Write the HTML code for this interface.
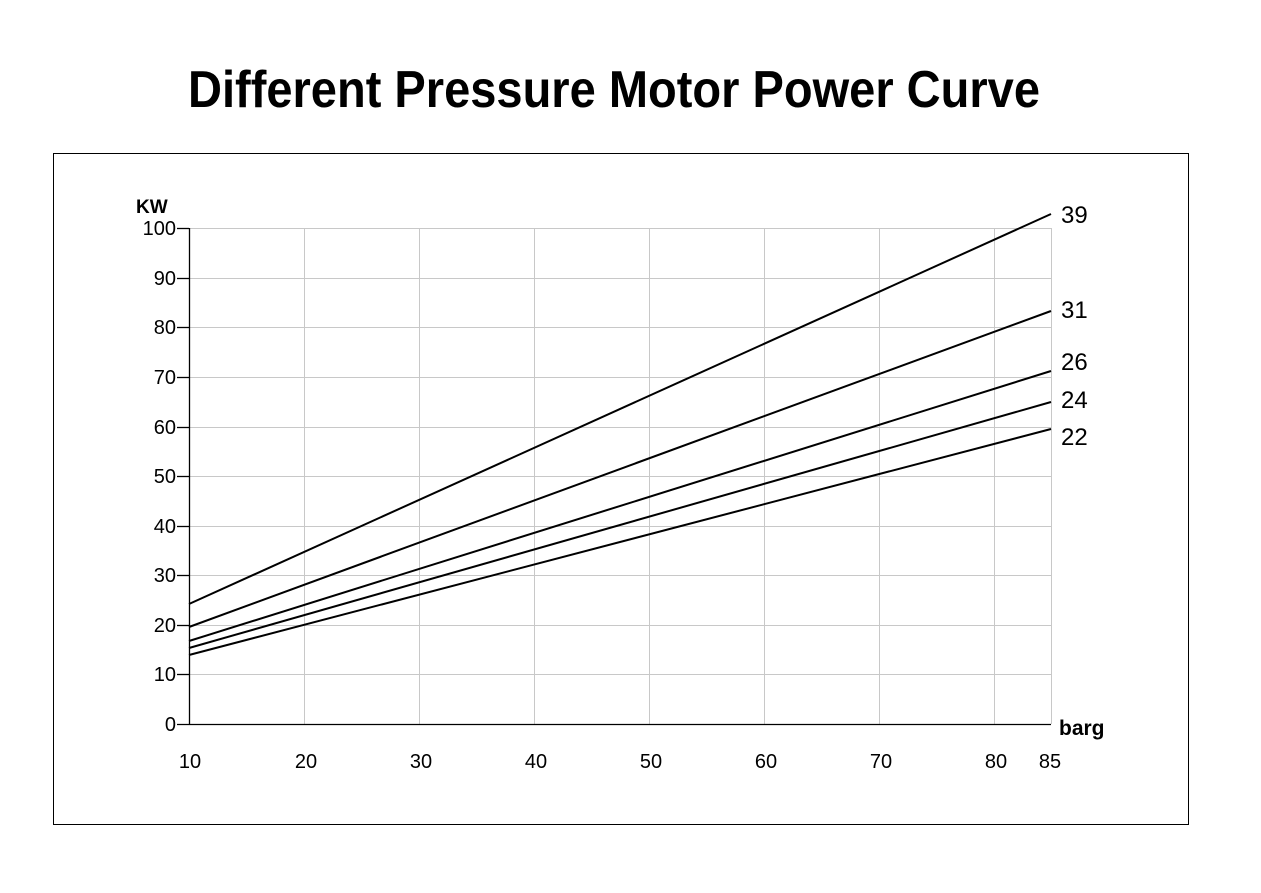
<!DOCTYPE html>
<html><head><style>html,body{margin:0;padding:0;background:#fff}svg{display:block}</style></head>
<body>
<svg width="1261" height="893" xmlns="http://www.w3.org/2000/svg">
<text x="614" y="107" text-anchor="middle" font-family="Liberation Sans, DejaVu Sans, sans-serif" font-weight="bold" font-size="52" fill="#000" textLength="852" lengthAdjust="spacingAndGlyphs">Different Pressure Motor Power Curve</text>
<rect x="53.5" y="153.5" width="1135" height="671" fill="none" stroke="#000" stroke-width="1"/>
<g stroke="#c8c8c8" stroke-width="1">
<line x1="189" y1="228.5" x2="1051" y2="228.5"/><line x1="189" y1="278.5" x2="1051" y2="278.5"/>
<line x1="189" y1="327.5" x2="1051" y2="327.5"/><line x1="189" y1="377.5" x2="1051" y2="377.5"/>
<line x1="189" y1="427.5" x2="1051" y2="427.5"/><line x1="189" y1="476.5" x2="1051" y2="476.5"/>
<line x1="189" y1="526.5" x2="1051" y2="526.5"/><line x1="189" y1="575.5" x2="1051" y2="575.5"/>
<line x1="189" y1="625.5" x2="1051" y2="625.5"/><line x1="189" y1="674.5" x2="1051" y2="674.5"/>
<line x1="304.5" y1="228" x2="304.5" y2="724"/><line x1="419.5" y1="228" x2="419.5" y2="724"/>
<line x1="534.5" y1="228" x2="534.5" y2="724"/><line x1="649.5" y1="228" x2="649.5" y2="724"/>
<line x1="764.5" y1="228" x2="764.5" y2="724"/><line x1="879.5" y1="228" x2="879.5" y2="724"/>
<line x1="994.5" y1="228" x2="994.5" y2="724"/><line x1="1051.5" y1="228" x2="1051.5" y2="724"/>
</g>
<g stroke="#000" stroke-width="1.3">
<line x1="189.5" y1="228" x2="189.5" y2="724"/><line x1="177" y1="724.5" x2="1051" y2="724.5"/>
<line x1="177" y1="228.5" x2="189" y2="228.5"/><line x1="177" y1="278.5" x2="189" y2="278.5"/>
<line x1="177" y1="327.5" x2="189" y2="327.5"/><line x1="177" y1="377.5" x2="189" y2="377.5"/>
<line x1="177" y1="427.5" x2="189" y2="427.5"/><line x1="177" y1="476.5" x2="189" y2="476.5"/>
<line x1="177" y1="526.5" x2="189" y2="526.5"/><line x1="177" y1="575.5" x2="189" y2="575.5"/>
<line x1="177" y1="625.5" x2="189" y2="625.5"/><line x1="177" y1="674.5" x2="189" y2="674.5"/>
</g>
<g stroke="#000" stroke-width="2" fill="none">
<line x1="189" y1="604" x2="1051" y2="214"/>
<line x1="189" y1="627" x2="1051" y2="311"/>
<line x1="189" y1="641" x2="1051" y2="371"/>
<line x1="189" y1="648" x2="1051" y2="402"/>
<line x1="189" y1="655" x2="1051" y2="429"/>
</g>
<g font-family="Liberation Sans, sans-serif" font-size="20" fill="#000" text-anchor="end">
<text x="176" y="235">100</text><text x="176" y="285">90</text><text x="176" y="334">80</text>
<text x="176" y="384">70</text><text x="176" y="434">60</text><text x="176" y="483">50</text>
<text x="176" y="533">40</text><text x="176" y="582">30</text><text x="176" y="632">20</text>
<text x="176" y="681">10</text><text x="176" y="731">0</text>
</g>
<g font-family="Liberation Sans, sans-serif" font-size="20" fill="#000" text-anchor="middle">
<text x="190" y="768">10</text><text x="306" y="768">20</text><text x="421" y="768">30</text>
<text x="536" y="768">40</text><text x="651" y="768">50</text><text x="766" y="768">60</text>
<text x="881" y="768">70</text><text x="996" y="768">80</text><text x="1050" y="768">85</text>
</g>
<text x="136" y="213" font-family="Liberation Sans, sans-serif" font-weight="bold" font-size="19">KW</text>
<text x="1059" y="735" font-family="Liberation Sans, sans-serif" font-weight="bold" font-size="21">barg</text>
<g font-family="Liberation Sans, sans-serif" font-size="24" fill="#000">
<text x="1061" y="223">39</text><text x="1061" y="318">31</text><text x="1061" y="370">26</text>
<text x="1061" y="408">24</text><text x="1061" y="445">22</text>
</g>
</svg>
</body></html>
